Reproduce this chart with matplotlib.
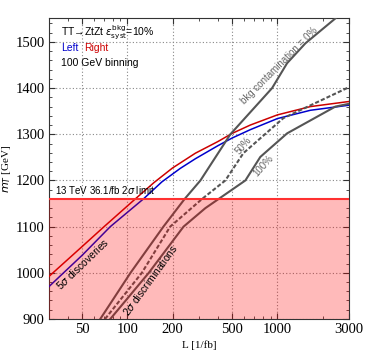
import numpy as np
import matplotlib
matplotlib.use("Agg")
import matplotlib.pyplot as plt
from matplotlib.ticker import FixedLocator, NullFormatter, MultipleLocator

# 5 sigma discovery reach, m_T vs luminosity
red_L = [30, 50, 70, 113, 150, 200, 284, 400, 500, 660, 1000, 1660, 3000]
red_m = [992, 1057, 1100, 1160, 1195, 1227, 1259, 1284, 1302, 1320, 1342, 1360, 1371]
blue_L = [30, 50, 77, 128, 170, 225, 284, 400, 500, 660, 1000, 1660, 3000]
blue_m = [970, 1038, 1100, 1160, 1197, 1226, 1247, 1275, 1292, 1310, 1334, 1352, 1363]

# 2 sigma discrimination, bkg contamination 0%, 50%, 100%
c0_L = [66, 105, 174, 241, 307, 486, 922, 1161, 1537, 2436]
c0_m = [900, 1000, 1100, 1160, 1200, 1300, 1400, 1454, 1497, 1551]
c50_L = [71, 125, 193, 315, 450, 593, 1096, 3000]
c50_m = [900, 1000, 1100, 1160, 1200, 1259, 1335, 1402]
c100_L = [77, 139, 237, 331, 612, 770, 1161, 2436, 3000]
c100_m = [900, 1000, 1100, 1140, 1200, 1251, 1302, 1360, 1366]

limit_m = 1160
xticks = [50, 100, 200, 500, 1000, 3000]
yticks = [900, 1000, 1100, 1200, 1300, 1400, 1500]

serif = "Liberation Serif"
sans = "Liberation Sans"
gray = "#555555"

fig = plt.figure(figsize=(3.65, 3.54), dpi=100)
ax = fig.add_axes([0.134, 0.099, 0.822, 0.849])

ax.plot(red_L, red_m, color="#cc0000", lw=1.1, zorder=3)
ax.plot(blue_L, blue_m, color="#0000cc", lw=1.1, zorder=3)
ax.plot(c0_L, c0_m, color=gray, lw=1.5, zorder=3)
ax.plot(c50_L, c50_m, color=gray, lw=1.5, ls=(0, (2, 1)), zorder=3)
ax.plot(c100_L, c100_m, color=gray, lw=1.5, zorder=3)

# excluded region on top of the curves
ax.axhspan(900, limit_m, color="red", alpha=0.27, lw=0, zorder=4)
ax.axhline(limit_m, color="#ff3030", lw=1.5, zorder=5)

ax.set_xscale("log")
ax.set_xlim(30, 3000)
ax.set_ylim(900, 1551)
ax.set_xticks(xticks)
ax.set_xticklabels([str(t) for t in xticks])
ax.xaxis.set_minor_locator(FixedLocator([30, 40, 60, 70, 80, 90, 300, 400, 600, 700, 800, 900, 2000]))
ax.xaxis.set_minor_formatter(NullFormatter())
ax.set_yticks(yticks)
ax.yaxis.set_minor_locator(MultipleLocator(20))
ax.tick_params(which="both", direction="in", top=True, right=True, color="#333333")
ax.tick_params(which="major", length=4, labelsize=10.5, pad=3)
ax.tick_params(which="minor", length=2)
for lab in ax.get_xticklabels() + ax.get_yticklabels():
    lab.set_family(serif)
for s in ax.spines.values():
    s.set_color("#333333")
    s.set_linewidth(0.8)
ax.grid(True, which="major", ls=(0, (1, 2)), color="#888888", lw=0.8, zorder=1)

ax.set_xlabel("L [1/fb]", family=serif, fontsize=8, labelpad=3)
ax.set_ylabel(r"$m_T$ [GeV]", family=serif, fontsize=8, labelpad=2)

ax.text(0.04, 0.951, r"TT→ZtZt $\epsilon^{\rm bkg}_{\rm syst}$=10%", transform=ax.transAxes,
        family=sans, fontsize=7.5, va="center")
ax.text(0.04, 0.901, "Left", color="#0000cc", transform=ax.transAxes, family=sans, fontsize=7.5, va="center")
ax.text(0.118, 0.901, "Right", color="#cc0000", transform=ax.transAxes, family=sans, fontsize=7.5, va="center")
ax.text(0.04, 0.851, "100 GeV binning", transform=ax.transAxes, family=sans, fontsize=7.5, va="center")

ax.text(33, 1180, r"13 TeV 36.1/fb 2$\sigma$ limit", family=sans, fontsize=7, va="center", zorder=6)
ax.text(50, 1019, r"5$\sigma$ discoveries", family=sans, fontsize=7.5, rotation=44,
        ha="center", va="center", zorder=6)
ax.text(142, 984, r"2$\sigma$ discriminations", family=sans, fontsize=7.5, rotation=54,
        ha="center", va="center", zorder=6)
ax.text(1031, 1448, "bkg contamination = 0%", color="#666666", family=sans, fontsize=7,
        rotation=45, ha="center", va="center", zorder=6)
ax.text(594, 1275, "50%", color="#666666", family=sans, fontsize=7, rotation=50,
        ha="center", va="center", zorder=6)
ax.text(808, 1231, "100%", color="#666666", family=sans, fontsize=7, rotation=48,
        ha="center", va="center", zorder=6)

fig.savefig("out.png", dpi=100)
